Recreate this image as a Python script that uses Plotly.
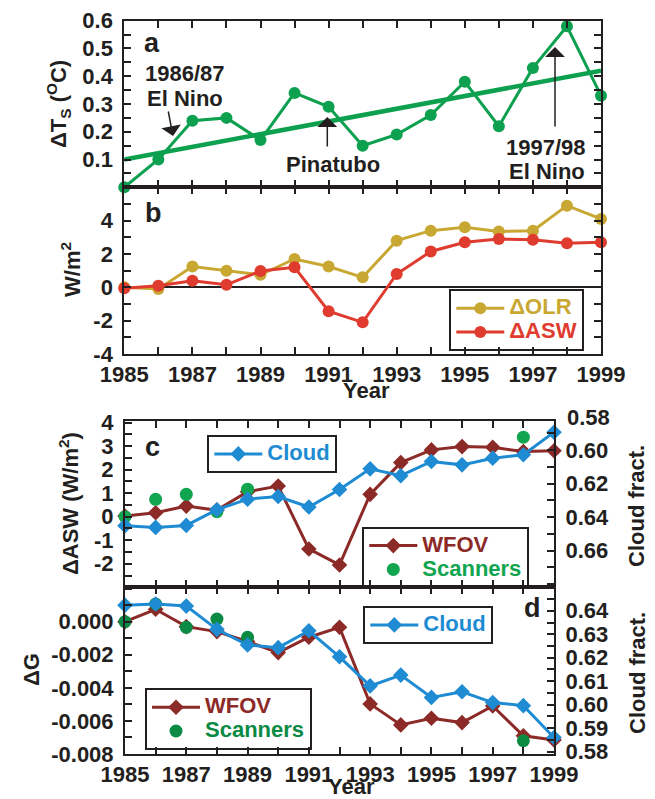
import plotly.graph_objects as go

W, H = 655, 799
def px(x): return x / W
def py(y): return 1 - y / H

# ---------------- data ----------------
years = [1985, 1986, 1987, 1988, 1989, 1990, 1991, 1992, 1993, 1994, 1995, 1996, 1997, 1998, 1999]
year_labels = ['1985', '', '1987', '', '1989', '', '1991', '', '1993', '', '1995', '', '1997', '', '1999']

dTs = [0.00, 0.10, 0.24, 0.25, 0.17, 0.34, 0.29, 0.15, 0.19, 0.26, 0.38, 0.22, 0.43, 0.58, 0.33]
trend_years = [1985, 1999]
trend_vals = [0.10, 0.42]

dOLR = [0.0, -0.1, 1.25, 1.0, 0.75, 1.7, 1.25, 0.6, 2.8, 3.4, 3.6, 3.35, 3.4, 4.9, 4.1]
dASW = [-0.05, 0.1, 0.4, 0.15, 0.98, 1.2, -1.43, -2.1, 0.8, 2.15, 2.7, 2.9, 2.85, 2.65, 2.7]

wfov_c = [0.03, 0.17, 0.45, 0.28, 1.06, 1.3, -1.37, -2.05, 0.95, 2.3, 2.84, 2.98, 2.95, 2.77, 2.8]
cloud_c = [0.6452, 0.6462, 0.645, 0.6356, 0.6293, 0.6277, 0.634, 0.6235, 0.6112, 0.6153,
           0.6068, 0.6088, 0.6048, 0.6028, 0.5893]
scan_years = [1985, 1986, 1987, 1988, 1989, 1998]
scan_c = [0.0, 0.74, 0.95, 0.21, 1.17, 3.38]

wfov_d = [0.0, 0.00075, -0.0003, -0.0006, -0.0012, -0.00187, -0.00094, -0.00034, -0.00497,
          -0.00624, -0.00584, -0.0061, -0.0051, -0.0069, -0.00715]
cloud_d = [0.6424, 0.6429, 0.642, 0.6321, 0.6254, 0.6243, 0.6315, 0.6204, 0.608, 0.6126,
           0.6031, 0.6055, 0.6009, 0.5996, 0.586]
scan_d = [0.0, 0.00107, -0.00034, 0.00016, -0.00094, -0.0072]

# tick definitions
a_tickvals = [0.05, 0.1, 0.15, 0.2, 0.25, 0.3, 0.35, 0.4, 0.45, 0.5, 0.55, 0.6]
a_ticktext = ['', '0.1', '', '0.2', '', '0.3', '', '0.4', '', '0.5', '', '0.6']
b_tickvals = [-4, -3, -2, -1, 0, 1, 2, 3, 4, 5, 6]
b_ticktext = ['-4', '', '-2', '', '0', '', '2', '', '4', '', '']
c_tickvals = [-3, -2.5, -2, -1.5, -1, -0.5, 0, 0.5, 1, 1.5, 2, 2.5, 3, 3.5, 4]
c_ticktext = ['', '', '-2', '', '-1', '', '0', '', '1', '', '2', '', '3', '', '4']
cr_tickvals = [0.59, 0.60, 0.61, 0.62, 0.63, 0.64, 0.65, 0.66, 0.67, 0.68]
cr_ticktext = ['', '0.60', '', '0.62', '', '0.64', '', '0.66', '', '']
d_tickvals = [-0.008, -0.007, -0.006, -0.005, -0.004, -0.003, -0.002, -0.001, 0.0, 0.001, 0.002]
d_ticktext = ['-0.008', '', '-0.006', '', '-0.004', '', '-0.002', '', '0.000', '', '']
dr_tickvals = [0.58, 0.585, 0.59, 0.595, 0.60, 0.605, 0.61, 0.615, 0.62, 0.625, 0.63, 0.635, 0.64, 0.645]
dr_ticktext = ['0.58', '', '0.59', '', '0.60', '', '0.61', '', '0.62', '', '0.63', '', '0.64', '']

# ---------------- style ----------------
FONT = 'Liberation Sans, Arial, Helvetica, sans-serif'
BLACK = '#231f20'
GREEN = '#0ca04f'
GOLD = '#c8a832'
RED = '#df3b2e'
DRED = '#8c2a28'
BLUE = '#1e8bd2'
SGREEN_C = '#12a550'
SGREEN_D = '#0b8a44'
TF = dict(family=FONT, size=22, color=BLACK, weight='bold')

def lname(t, color):
    return f"<span style='color:{color};font-size:22px'>{t}</span>"

fig = go.Figure()

# panel a
fig.add_trace(go.Scatter(x=trend_years, y=trend_vals, mode='lines', line=dict(color=GREEN, width=4.5),
                         xaxis='x', yaxis='y', showlegend=False, cliponaxis=False))
fig.add_trace(go.Scatter(x=years, y=dTs, mode='lines+markers', line=dict(color=GREEN, width=3),
                         marker=dict(size=12, color=GREEN), xaxis='x', yaxis='y',
                         showlegend=False, cliponaxis=False))

# panel b
fig.add_trace(go.Scatter(x=years, y=dOLR, mode='lines+markers', line=dict(color=GOLD, width=3),
                         marker=dict(size=12, color=GOLD), xaxis='x2', yaxis='y2',
                         name=lname('ΔOLR', GOLD), legend='legend', cliponaxis=False))
fig.add_trace(go.Scatter(x=years, y=dASW, mode='lines+markers', line=dict(color=RED, width=3),
                         marker=dict(size=12, color=RED), xaxis='x2', yaxis='y2',
                         name=lname('ΔASW', RED), legend='legend', cliponaxis=False))

# panel c
fig.add_trace(go.Scatter(x=years, y=wfov_c, mode='lines+markers', line=dict(color=DRED, width=3),
                         marker=dict(size=12, color=DRED, symbol='diamond'), xaxis='x3', yaxis='y3',
                         name=lname('WFOV', DRED), legend='legend3', cliponaxis=False))
fig.add_trace(go.Scatter(x=years, y=cloud_c, mode='lines+markers', line=dict(color=BLUE, width=3),
                         marker=dict(size=12, color=BLUE, symbol='diamond'), xaxis='x3', yaxis='y4',
                         name=lname('Cloud', BLUE), legend='legend2', cliponaxis=False))
fig.add_trace(go.Scatter(x=scan_years, y=scan_c, mode='markers',
                         marker=dict(size=13, color=SGREEN_C), xaxis='x3', yaxis='y3',
                         name=lname('Scanners', SGREEN_C), legend='legend3', cliponaxis=False))

# panel d
fig.add_trace(go.Scatter(x=years, y=wfov_d, mode='lines+markers', line=dict(color=DRED, width=3),
                         marker=dict(size=12, color=DRED, symbol='diamond'), xaxis='x4', yaxis='y5',
                         name=lname('WFOV', DRED), legend='legend5', cliponaxis=False))
fig.add_trace(go.Scatter(x=years, y=cloud_d, mode='lines+markers', line=dict(color=BLUE, width=3),
                         marker=dict(size=12, color=BLUE, symbol='diamond'), xaxis='x4', yaxis='y6',
                         name=lname('Cloud', BLUE), legend='legend4', cliponaxis=False))
fig.add_trace(go.Scatter(x=scan_years, y=scan_d, mode='markers',
                         marker=dict(size=13, color=SGREEN_D), xaxis='x4', yaxis='y5',
                         name=lname('Scanners', SGREEN_D), legend='legend5', cliponaxis=False))

# ---------------- axes ----------------
common = dict(ticks='inside', ticklen=7, tickwidth=1.5, tickcolor=BLACK, showline=True,
              linewidth=2, linecolor=BLACK, showgrid=False, zeroline=False, tickfont=TF,
              fixedrange=True, automargin=False)

x_ab = [px(124.3), px(601)]
x_cd = [px(125), px(554)]
y_a = [py(187.3), py(20.7)]
y_b = [py(354), py(187.3)]
y_c = [py(587.3), py(420.7)]
y_d = [py(754), py(587.3)]

def xax(domain, anchor, labels):
    return dict(common, domain=domain, anchor=anchor, range=[1985, 1999], tickvals=years,
                ticktext=year_labels, showticklabels=labels, mirror='ticks', ticklabelstandoff=0)

def yax(**kw):
    return dict(common, ticklabelstandoff=5, **kw)

layout = dict(
    template='none',
    width=W, height=H, margin=dict(l=0, r=0, t=0, b=0, pad=0, autoexpand=False), autosize=False,
    paper_bgcolor='white', plot_bgcolor='white', font=dict(family=FONT, color=BLACK),
    xaxis=xax(x_ab, 'y', False),
    xaxis2=xax(x_ab, 'y2', True),
    xaxis3=xax(x_cd, 'y3', False),
    xaxis4=xax(x_cd, 'y5', True),
    yaxis=yax(domain=y_a, anchor='x', range=[0, 0.6], tickvals=a_tickvals,
              ticktext=a_ticktext, mirror='ticks'),
    yaxis2=yax(domain=y_b, anchor='x2', range=[-4, 6], tickvals=b_tickvals,
               ticktext=b_ticktext, mirror='ticks'),
    yaxis3=yax(domain=y_c, anchor='x3', range=[-3, 4.08], tickvals=c_tickvals,
               ticktext=c_ticktext, mirror=True),
    yaxis4=yax(domain=y_c, anchor='x3', overlaying='y3', side='right',
               range=[0.682, 0.5824], tickvals=cr_tickvals, ticktext=cr_ticktext),
    yaxis5=yax(domain=y_d, anchor='x4', range=[-0.008, 0.00208], tickvals=d_tickvals,
               ticktext=d_ticktext, mirror=True),
    yaxis6=yax(domain=y_d, anchor='x4', overlaying='y5', side='right',
               range=[0.579, 0.65], tickvals=dr_tickvals, ticktext=dr_ticktext),
)
layout['yaxis2'].update(zeroline=True, zerolinecolor=BLACK, zerolinewidth=1.5)

LF = dict(family=FONT, size=16, color=BLACK, weight='bold')
def leg(x, y):
    return dict(x=px(x), y=py(y), xanchor='left', yanchor='top', bgcolor='rgba(255,255,255,0)',
                bordercolor=BLACK, borderwidth=2, font=LF, tracegroupgap=0, itemwidth=48)

layout['legend'] = leg(449.3, 289.3)
layout['legend2'] = leg(207.3, 435)
layout['legend3'] = leg(362.3, 526.7)
layout['legend4'] = leg(363.3, 606)
layout['legend5'] = leg(145, 688.3)

fig.update_layout(**layout)

# ---------------- annotations ----------------
def txt(x, y, t, size=22, angle=0, xanchor='center', color=BLACK):
    fig.add_annotation(x=px(x), y=py(y), xref='paper', yref='paper', text=t, showarrow=False,
                       xanchor=xanchor, yanchor='middle', textangle=angle,
                       font=dict(family=FONT, size=size, color=color, weight='bold'))

def arrow(hx, hy, tx, ty):
    fig.add_annotation(x=px(hx), y=py(hy), xref='paper', yref='paper', text='', showarrow=True,
                       ax=tx - hx, ay=ty - hy, arrowhead=1, arrowsize=2.2, arrowwidth=1.5,
                       arrowcolor=BLACK, standoff=0)

# panel letters
txt(152, 43, 'a', size=27)
txt(153, 213, 'b', size=27)
txt(152, 447, 'c', size=27)
txt(532, 608, 'd', size=27)

# panel a notes
txt(185, 74, '1986/87')
txt(185, 98, 'El Nino')
arrow(173, 136, 168, 110)
txt(333, 165, 'Pinatubo')
arrow(327.3, 117, 327.3, 148)
txt(546, 147, '1997/98')
txt(547, 171, 'El Nino')
arrow(555, 47, 555, 128)

# axis titles
txt(58, 104, 'ΔT<sub>S</sub> (<sup>O</sup>C)', angle=-90)
txt(71, 270, 'W/m<sup>2</sup>', angle=-90)
txt(69, 504, 'ΔASW (W/m<sup>2</sup>)', angle=-90)
txt(31, 670, 'ΔG', angle=-90)
txt(637, 506, 'Cloud fract.', angle=-90)
txt(637, 673, 'Cloud fract.', angle=-90)
txt(366, 391, 'Year')
txt(351, 786, 'Year')
# right-axis label just above panel c frame (0.58)
txt(565, 417, '0.58', xanchor='left')

fig.write_html(
    "out.html",
    config={'displayModeBar': False},
    post_script=("document.documentElement.style.margin='0px';"
                 "document.body.style.margin='0px';"
                 "document.documentElement.style.overflow='hidden';"
                 "document.body.style.overflow='hidden';"),
)
